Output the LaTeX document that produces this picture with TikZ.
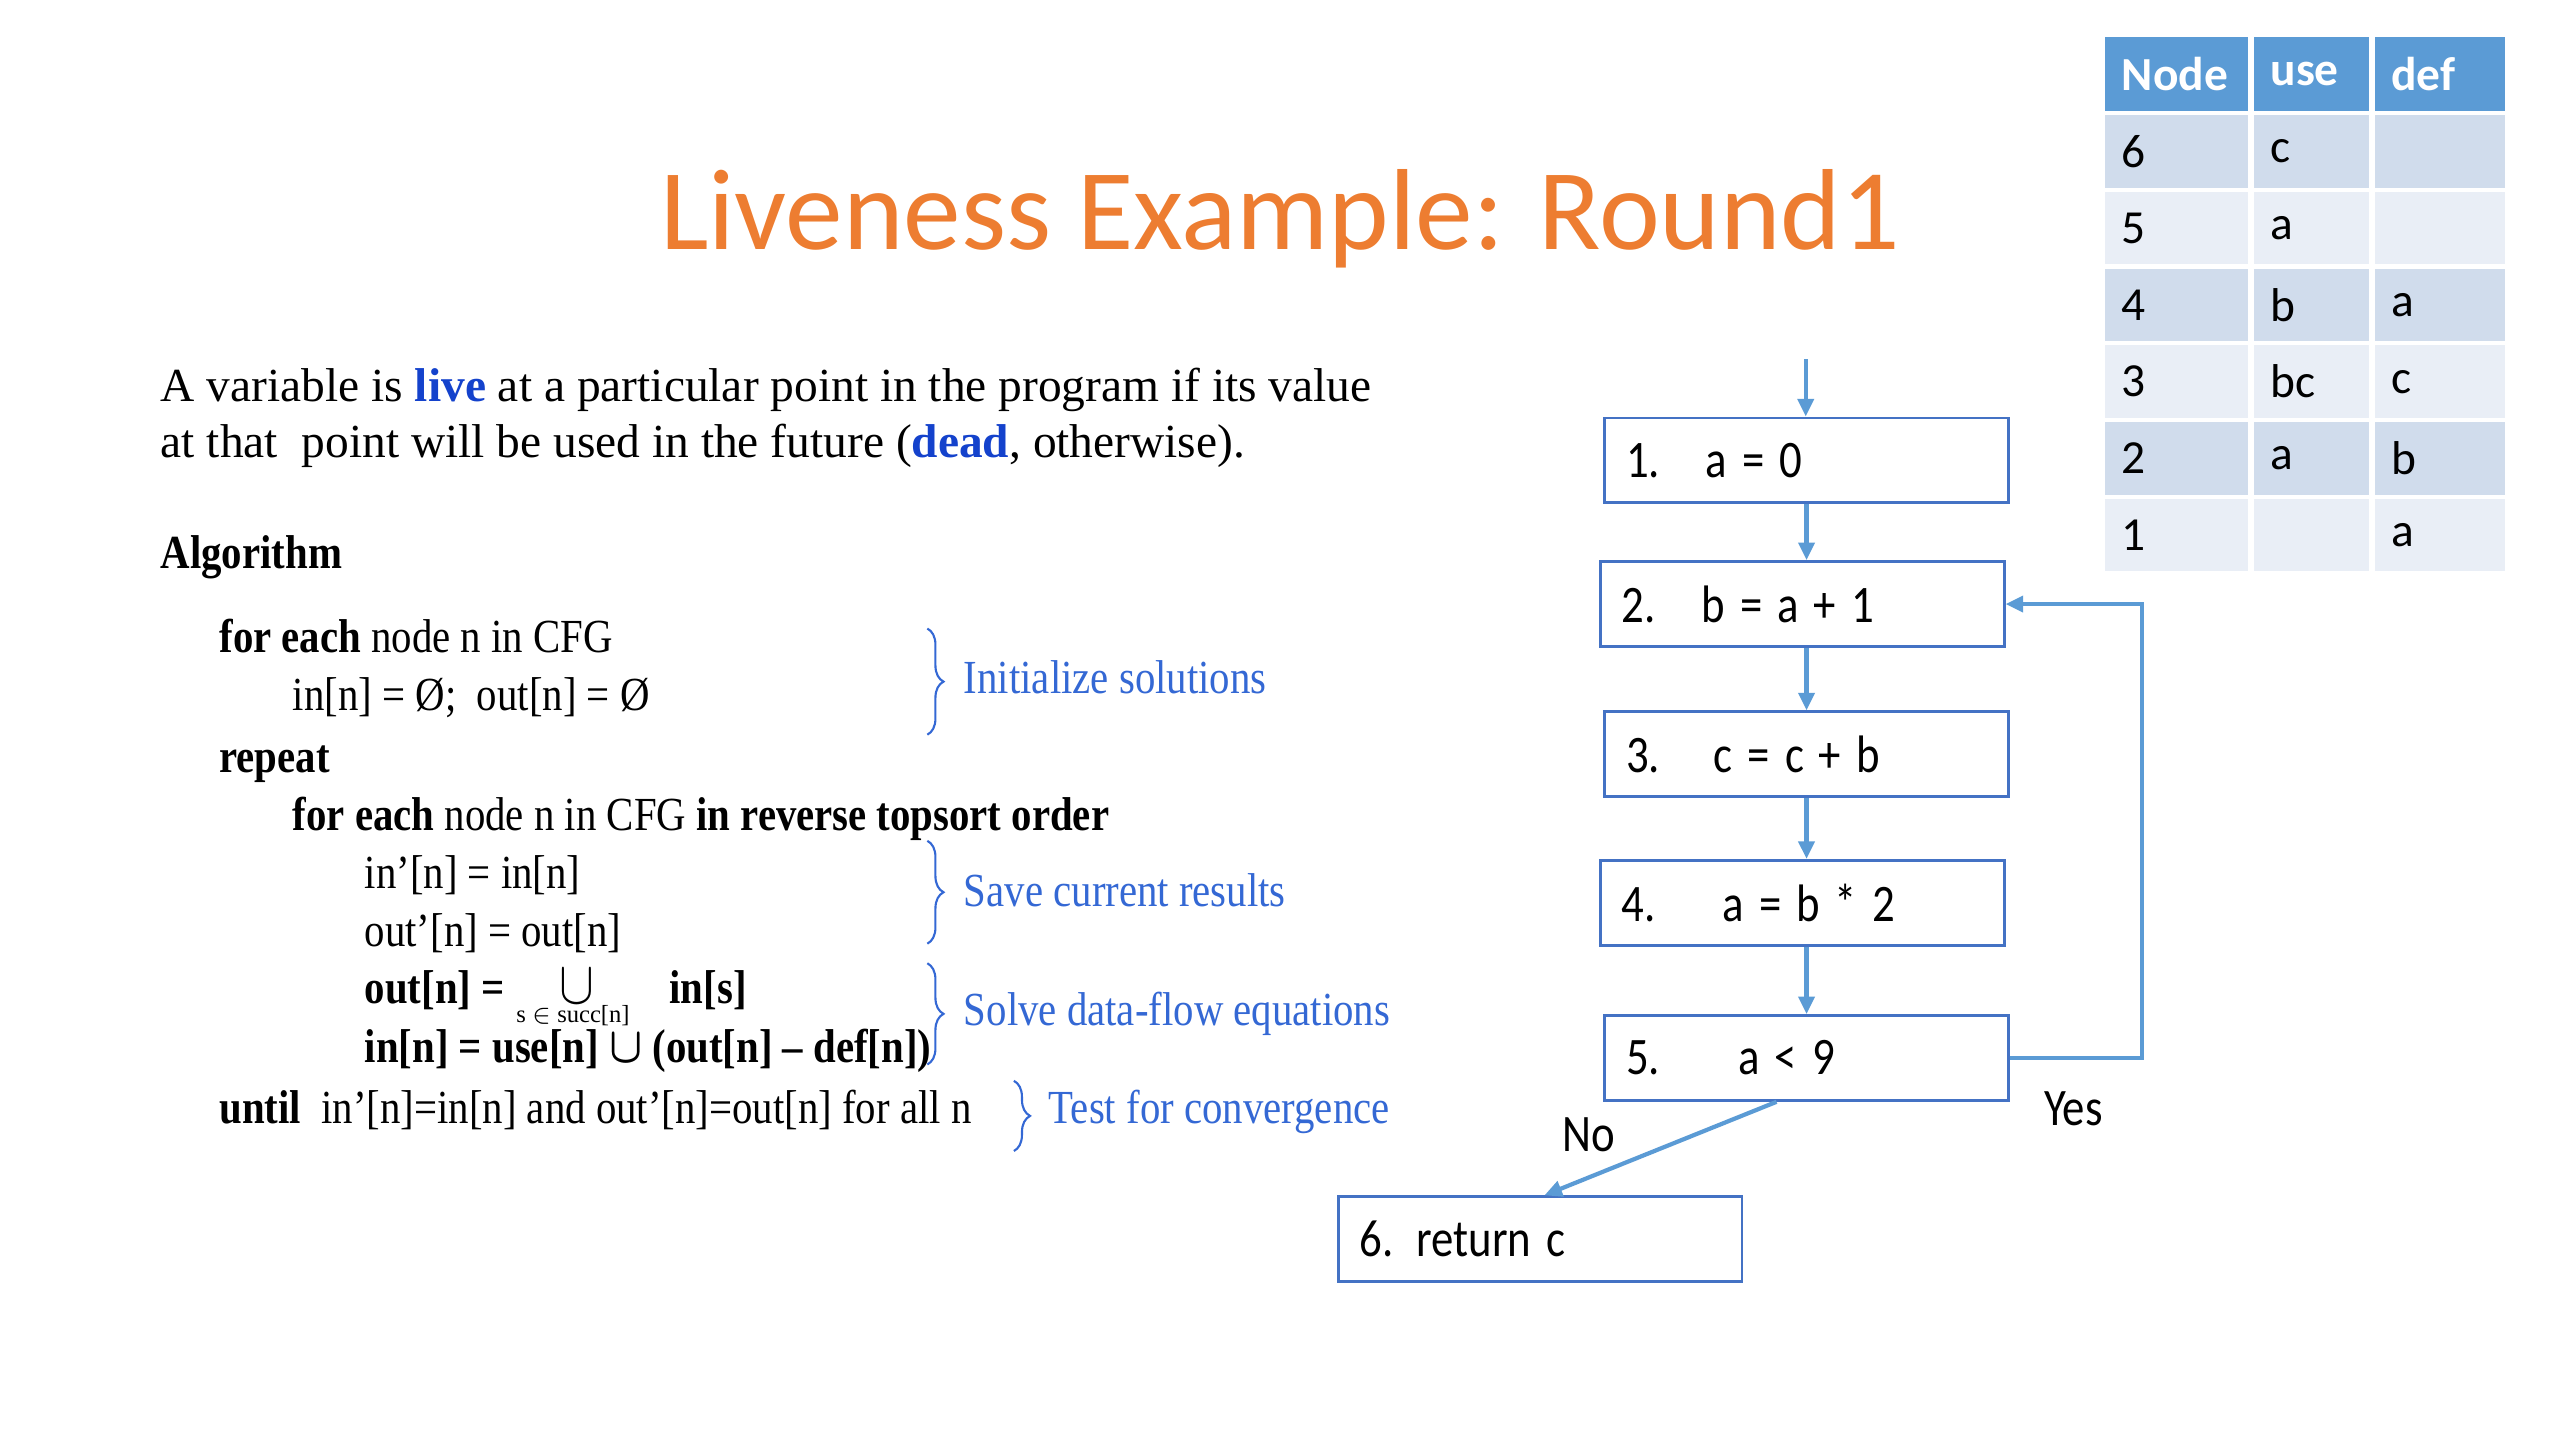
\documentclass[tikz,border=0pt]{standalone}
\usepackage{amsmath,amssymb}
\usepackage{graphicx}
\usepackage{fontspec}
\setmainfont{Liberation Serif}
\newfontfamily\calibri{Carlito}
\definecolor{ttlorange}{RGB}{237,125,49}
\definecolor{keyblue}{RGB}{20,66,204}
\definecolor{noteblue}{RGB}{52,104,212}
\definecolor{boxblue}{RGB}{68,114,196}
\definecolor{arrblue}{RGB}{91,155,213}
\definecolor{hdrblue}{RGB}{91,155,213}
\definecolor{rowdark}{RGB}{208,220,236}
\definecolor{rowlight}{RGB}{233,238,246}
\usetikzlibrary{arrows.meta,positioning,calc,decorations.pathreplacing}

\newcommand{\sqz}[1]{\scalebox{0.86}[1]{#1}}
\newcommand{\cnd}[1]{\scalebox{0.85}[1]{#1}}
\newcommand{\cfgline}[3]{\makebox[#2][l]{\cnd{#1}}\cnd{#3}}

\begin{document}
\begin{tikzpicture}[
  x=0.016327cm, y=-0.016327cm,
  txt/.style={anchor=mid west,inner sep=0pt,font=\fontsize{13.5}{16}\selectfont},
  note/.style={txt,text=noteblue},
  brc/.style={draw=noteblue,line width=0.6pt,decorate,decoration={brace,amplitude=4.6pt}},
  cfgbox/.style={draw=boxblue,line width=0.8pt,minimum width=4.033cm,minimum height=0.849cm,
                 inner xsep=6pt,text width=3.61cm,align=left,font=\calibri\fontsize{15}{18}\selectfont},
  flow/.style={draw=arrblue,line width=1.2pt,-{Triangle[length=5pt,width=4.5pt]}},
  lbl/.style={font=\calibri\fontsize{15}{18}\selectfont,inner sep=0pt},
  cell/.style={anchor=north west,draw=white,line width=1.2pt,inner xsep=5.3pt,align=left,
               minimum height=0.767cm,font=\calibri\fontsize{13.5}{16}\selectfont},
  hdcell/.style={cell,fill=hdrblue,text=white,minimum height=0.784cm,
                 font=\calibri\bfseries\fontsize{13.5}{16}\selectfont},
]
  \useasboundingbox (0,0) rectangle (1568,882);

  % Title
  \node[anchor=base,text=ttlorange,inner sep=0pt,font=\calibri\fontsize{32.8}{38}\selectfont]
    (title) at (784,153) {Liveness Example: Round1};

  % Definition
  \node[txt] (def1) at (98,241)
    {A variable is \textbf{\textcolor{keyblue}{live}} at a particular point in the program if its value};
  \node[txt] (def2) at (98,275)
    {at that\ \ point will be used in the future (\textbf{\textcolor{keyblue}{dead}}, otherwise).};

  % Algorithm
  \node[txt] (alg) at (98,343) {\sqz{\textbf{Algorithm}}};
  \node[txt] (l1) at (134,395) {\sqz{\textbf{for each} node n in CFG}};
  \node[txt] (l2) at (179,430) {\sqz{in[n] = Ø;\ \ out[n] = Ø}};
  \node[txt] (l3) at (134,468) {\sqz{\textbf{repeat}}};
  \node[txt] (l4) at (179,504) {\sqz{\textbf{for each} node n in CFG \textbf{in reverse topsort order}}};
  \node[txt] (l5) at (223,539) {\sqz{in’[n] = in[n]}};
  \node[txt] (l6) at (223,575) {\sqz{out’[n] = out[n]}};
  \node[txt] (l7) at (223,610)
    {\sqz{\textbf{out[n] =}\hspace{18pt}{\fontsize{16}{16}\selectfont$\cup$}\hspace{25pt}\textbf{in[s]}}};
  \node[txt,anchor=center,font=\fontsize{7}{8}\selectfont] (l7sub) at (351,622) {s $\in$ succ[n]};
  \node[txt] (l8) at (223,646) {\sqz{\textbf{in[n] = use[n] $\boldsymbol{\cup}$ (out[n] – def[n])}}};
  \node[txt] (l9) at (134,683) {\sqz{\textbf{until}\ \ in’[n]=in[n] and out’[n]=out[n] for all n}};

  % Braces and notes
  \draw[brc] (568,385) -- (568,450);
  \node[note] (n1) at (590,420) {\sqz{Initialize solutions}};
  \draw[brc] (568,515) -- (568,578);
  \node[note] (n2) at (590,550) {\sqz{Save current results}};
  \draw[brc] (568,590) -- (568,652);
  \node[note] (n3) at (590,623) {\sqz{Solve data-flow equations}};
  \draw[brc] (621,662) -- (621,705);
  \node[note] (n4) at (642,683) {\sqz{Test for convergence}};

  % Control flow graph
  \node[cfgbox] (s1) at (1106.5,282) {\cfgline{1.}{22.7pt}{a = 0}};
  \node[cfgbox] (s2) at (1104,370)   {\cfgline{2.}{22.7pt}{b = a + 1}};
  \node[cfgbox] (s3) at (1106.5,462) {\cfgline{3.}{25pt}{c = c + b}};
  \node[cfgbox] (s4) at (1104,553)   {\cfgline{4.}{28.7pt}{a = b * 2}};
  \node[cfgbox] (s5) at (1106.5,648) {\cfgline{5.}{32pt}{a < 9}};
  \node[cfgbox] (s6) at (943.5,759)  {\cnd{6. return c}};

  \coordinate (entry) at (1106,220);
  \coordinate (loopx) at (1312,0);
  \draw[flow] (entry) -- (entry |- s1.north);
  \draw[flow] (s1.south) -- (s1.south |- s2.north);
  \draw[flow] (s2.south -| s1.south) -- (s1.south |- s3.north);
  \draw[flow] (s3.south) -- (s3.south |- s4.north);
  \draw[flow] (s4.south -| s3.south) -- (s3.south |- s5.north);
  \draw[flow] (s5.east) -- (s5.east -| loopx) -- (loopx |- s2.east) -- (s2.east);
  \draw[flow] ([xshift=-0.3cm]s5.south) -- ([xshift=0.04cm]s6.north);
  \node[lbl] (yes) at (1270,679) {\cnd{Yes}};
  \node[lbl] (no) at (973,695) {\cnd{No}};

  % use/def table
  \foreach \hd/\cx/\tw [count=\j] in {Node/1287/1.10cm,use/1378/0.82cm,def/1452/0.97cm}
    \node[hdcell,text width=\tw] (h\j) at (\cx,20) {\hd};
  \foreach \nd/\us/\df [count=\i from 0] in {6/c/{},5/a/{},4/b/a,3/bc/c,2/a/b,1/{}/a} {
    \pgfmathtruncatemacro\ry{68+47*\i}
    \pgfmathtruncatemacro\odd{mod(\i,2)}
    \ifnum\odd=0 \def\rowfill{rowdark}\else\def\rowfill{rowlight}\fi
    \node[cell,fill=\rowfill,text width=1.10cm] (n\nd) at (1287,\ry) {\nd};
    \node[cell,fill=\rowfill,text width=0.82cm] (u\nd) at (1378,\ry) {\us};
    \node[cell,fill=\rowfill,text width=0.97cm] (d\nd) at (1452,\ry) {\df};
  }
\end{tikzpicture}
\end{document}
